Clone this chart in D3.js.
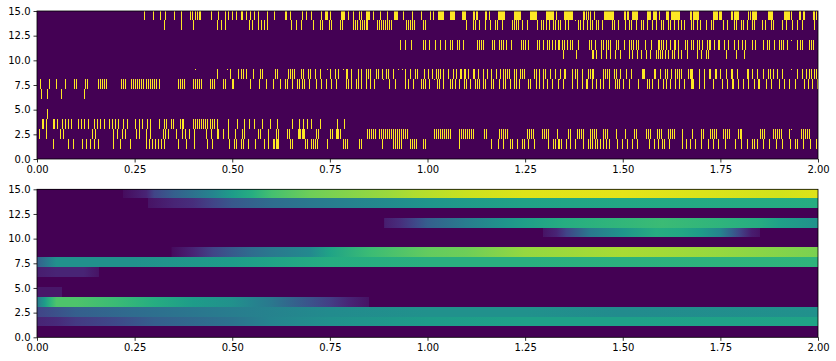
<!DOCTYPE html>
<html>
<head>
<meta charset="utf-8">
<script src="https://cdn.jsdelivr.net/npm/d3@7"></script>
<style>
  html, body { margin: 0; padding: 0; background: #fff; }
  text { font-family: "DejaVu Sans", sans-serif; font-size: 10px; }
</style>
</head>
<body>
<div id="chart"></div>
<script>
// spike times (seconds) per neuron
const spikes14 = [.274,.297,.315,.329,.352,.369,.392,.398,.404,.409,.414,.418,.446,.464,.481,.489,.499,.509,.522,.525,.534,.545,.556,.567,.588,.608,
  .636,.638,.647,.679,.688,.702,.727,.7375,.740,.7425,.750,.778,.7805,.783,.7855,.796,.809,.825,.830,.842,.8445,.847,.8495,.861,.878,.896,.914,.9165,.919,.9215,.937,.960,.983,
  1.006,1.014,1.028,1.0305,1.033,1.0355,1.038,1.0405,1.058,1.0605,1.063,1.0655,1.068,1.088,1.0905,1.093,1.0955,1.116,1.1185,1.125,1.1275,1.147,1.151,1.158,
  1.181,1.1835,1.186,1.1885,1.191,1.1935,1.196,1.221,1.2235,1.226,1.2285,1.231,1.2335,1.236,1.262,1.2645,1.267,1.2695,1.272,1.2745,1.277,1.303,1.3055,1.308,1.3105,1.313,1.3155,1.318,1.3205,1.330,
  1.350,1.3525,1.355,1.3575,1.360,1.3625,1.365,1.3675,1.370,1.397,1.402,1.407,1.412,1.417,1.426,1.451,1.4535,1.456,1.4585,1.461,1.4635,1.466,1.4685,1.471,1.4735,1.476,
  1.502,1.507,1.512,1.5145,1.523,1.5255,1.528,1.5305,1.533,1.5355,1.561,1.5635,1.566,1.5685,1.571,1.578,1.5805,1.583,1.5855,1.594,1.612,1.6145,1.617,1.624,1.6265,1.629,1.6315,1.634,1.6365,1.639,1.6415,1.644,
  1.671,1.6735,1.680,1.6825,1.685,1.6875,1.690,1.6925,1.731,1.7335,1.736,1.7385,1.741,1.747,1.7495,1.752,1.776,1.781,1.786,1.7885,1.791,1.7935,1.796,1.821,1.826,1.831,1.8335,1.836,1.8385,1.841,
  1.873,1.8755,1.878,1.8805,1.883,1.913,1.9155,1.918,1.9205,1.923,1.9255,1.932,1.951,1.9535,1.961,1.9635,1.986,1.9885,1.995];
const spikes13 = [.324,.369,.399,.461,.471,.481,.543,.551,.566,.574,.581,.589,.650,.663,.676,.707,.725,.730,.748,.753,.776,.781,.809,.814,.819,.827,.832,.837,.842,.845,
  .871,.876,.881,.886,.891,.896,.901,.906,.945,.950,.955,.960,.965,.988,.994,1.099,1.116,1.121,1.132,1.147,1.160,1.173,1.178,1.191,1.217,1.222,1.227,1.232,1.242,1.255,
  1.281,1.291,1.296,1.304,1.311,1.321,1.326,1.333,1.340,1.353,1.360,1.386,1.391,1.399,1.409,1.417,1.422,1.432,1.437,1.448,1.473,1.478,1.489,1.507,1.517,1.522,1.535,1.548,1.553,1.563,
  1.576,1.584,1.597,1.604,1.617,1.622,1.632,1.642,1.650,1.658,1.676,1.681,1.689,1.699,1.712,1.725,1.732,1.758,1.766,1.784,1.789,1.804,1.809,1.819,1.830,1.835,1.857,1.863,1.880,1.886,1.909,1.919,1.934,1.947,1.960,1.990];
const spikes11 = [.930,.942,.958,.988,.994,1.004,1.019,1.032,1.045,1.058,1.063,1.076,1.081,1.091,1.127,1.132,1.137,1.142,1.165,1.170,1.183,1.188,1.193,1.201,1.214,1.239,1.244,1.250,1.257,
  1.281,1.286,1.296,1.306,1.311,1.319,1.326,1.333,1.338,1.345,1.350,1.358,1.366,1.371,1.386,1.413,1.418,1.428,1.445,1.450,1.457,1.463,1.468,1.483,1.489,1.504,1.517,1.522,1.527,1.535,1.540,1.556,1.573,
  1.589,1.594,1.599,1.604,1.610,1.620,1.630,1.635,1.642,1.660,1.665,1.676,1.681,1.689,1.696,1.704,1.717,1.720,1.724,1.734,1.744,1.747,1.760,1.770,1.784,1.794,1.805,1.814,1.831,1.838,1.859,1.870,1.874,1.887,1.900,1.905,1.910,1.920,1.945,1.953,1.960,1.976,1.981,1.986];
const spikes10 = [1.347,1.381,1.422,1.425,1.432,1.445,1.457,1.468,1.479,1.492,1.515,1.523,1.537,1.548,1.560,1.571,1.586,1.591,1.596,1.601,1.608,1.615,1.625,1.632,1.642,1.650,1.665,1.689,1.701,1.714,1.719,1.765,1.791,1.811];
const spikes8 = [.461,.494,.515,.522,.528,.535,.553,.571,.576,.609,.615,.643,.647,.652,.657,.675,.680,.694,.698,.711,.724,.750,.763,.771,.791,.795,.803,.823,.830,.842,.847,.852,.867,.873,.883,.893,.898,.911,.942,.955,.968,.973,.991,
  1.001,1.012,1.022,1.028,1.031,1.040,1.053,1.065,1.073,1.083,1.086,1.093,1.096,1.104,1.116,1.119,1.129,1.142,1.152,1.163,1.175,1.186,1.193,1.198,1.203,1.209,1.222,1.227,1.237,1.242,1.247,1.273,1.278,1.285,1.296,1.301,1.314,1.326,
  1.340,1.350,1.353,1.369,1.379,1.384,1.395,1.410,1.415,1.420,1.425,1.449,1.454,1.459,1.464,1.477,1.482,1.492,1.494,1.508,1.520,1.522,1.549,1.551,1.554,1.579,1.582,1.595,1.608,1.613,1.623,1.635,1.640,1.645,1.650,1.666,1.668,1.671,1.676,1.678,1.694,1.707,1.720,1.723,1.736,1.739,1.748,1.764,1.776,1.781,1.792,1.818,1.820,1.830,1.832,1.843,1.858,1.871,1.876,1.884,1.894,1.907,1.945,1.958,1.968,1.978,1.981,1.989,1.994];
const spikes7 = [.008,.031,.049,.072,.095,.100,.123,.128,.156,.161,.166,.171,.176,.215,.220,.225,.241,.246,.251,.256,.261,.266,.272,.279,.284,.289,.294,.300,.305,.312,.361,.366,.371,.376,.399,.405,.410,.415,.420,.443,.448,.453,.476,.481,.499,.502,.545,.568,.586,.604,
  .621,.634,.639,.652,.665,.670,.678,.683,.696,.714,.727,.739,.752,.765,.791,.796,.804,.817,.822,.830,.842,.853,.863,.901,.917,.942,.950,.963,.983,.988,.993,1.004,1.024,1.029,1.040,1.058,1.063,1.070,1.081,1.094,1.099,1.109,1.121,1.126,1.131,1.142,1.147,1.163,1.168,1.183,1.193,1.198,1.211,1.222,1.227,1.234,1.257,1.262,1.278,1.286,1.296,1.306,1.319,1.334,
  1.347,1.370,1.383,1.396,1.406,1.408,1.421,1.431,1.442,1.449,1.466,1.480,1.485,1.490,1.501,1.516,1.539,1.562,1.567,1.575,1.590,1.603,1.611,1.621,1.634,1.644,1.657,1.675,1.677,1.680,1.695,1.708,1.731,1.754,1.767,1.780,1.782,1.795,1.808,1.821,1.836,1.847,1.849,1.867,1.879,1.900,1.913,1.926,1.941,1.964,1.974,1.984,1.998];
const spikes6 = [.010,.026,.061,.120];
const spikes4 = [.026];
const spikes3 = [.013,.015,.023,.041,.043,.051,.064,.072,.079,.087,.105,.113,.120,.131,.146,.154,.161,.172,.184,.192,.200,.207,.220,.230,.251,.261,.269,.282,.289,.312,.325,.330,.343,.348,.366,.371,.374,.399,.405,.410,.415,.420,.425,.430,.435,.443,.448,.453,.461,.489,.512,.530,.543,.556,.576,.597,.615,.653,.671,.681,.691,.702,.725,.768,.786];
const spikes2 = [.005,.023,.059,.067,.141,.149,.195,.205,.218,.225,.254,.261,.279,.289,.323,.328,.335,.356,.371,.379,.389,.402,.433,.446,.461,.463,.476,.489,.507,.525,.530,.566,.571,.592,.612,.617,
  .640,.645,.668,.670,.673,.678,.680,.683,.715,.720,.750,.755,.766,.769,.771,.776,.845,.850,.855,.860,.865,.876,.881,.886,.891,.896,.901,.906,.912,.917,.922,.927,.932,.937,.942,.948,
  1.017,1.022,1.027,1.032,1.037,1.042,1.048,1.053,1.058,1.081,1.086,1.091,1.096,1.101,1.106,1.111,1.116,1.145,1.150,1.183,1.188,1.193,1.198,1.204,1.255,1.260,1.265,1.270,1.293,1.298,1.303,1.309,1.332,
  1.361,1.366,1.384,1.389,1.394,1.399,1.417,1.422,1.427,1.432,1.450,1.455,1.460,1.483,1.507,1.530,1.535,1.559,1.564,1.569,1.587,1.592,1.597,1.615,1.620,1.625,1.631,1.651,1.677,1.700,1.705,1.723,1.728,1.733,1.738,1.756,1.761,1.766,1.771,1.794,1.799,1.804,1.851,1.856,1.861,1.884,1.889,1.894,1.900,1.905,1.927,1.956,1.961,1.966,1.971,1.976];
const spikes1 = [.041,.079,.092,.115,.125,.136,.146,.156,.195,.213,.238,.279,.287,.295,.302,.310,.318,.325,.361,.382,.402,.435,.448,.492,.504,.510,.522,.528,.540,.558,.581,.592,.604,.606,.612,.614,.617,
  .648,.653,.686,.691,.702,.707,.712,.717,.742,.784,.789,.794,.825,.830,.884,.912,.917,.922,.927,.932,.955,.960,.965,.970,.988,.994,1.081,1.163,1.181,1.193,1.211,1.216,1.229,1.242,1.247,1.257,1.273,1.309,1.321,1.326,1.334,
  1.336,1.341,1.354,1.366,1.379,1.397,1.410,1.415,1.420,1.428,1.433,1.441,1.449,1.456,1.466,1.484,1.497,1.510,1.523,1.536,1.566,1.579,1.590,1.600,1.605,1.618,1.651,1.661,1.671,1.684,1.700,1.718,1.732,1.745,1.761,1.787,1.804,1.817,1.830,1.835,1.843,1.859,1.874,1.892,1.907,1.928,1.940,1.945,1.961,1.979,1.994];

// the very short ticks that only show along the top of a row
const stubs13 = [1.378,1.507];
const stubs11 = [1.932];
const stubs8 = [.405,.487,.743,.783,.924,.935,1.932];
const stubs7 = [.886,1.017,1.338];
const stubs2 = [1.93];

const rate14 = [[.219,0],[.22,.03],[.28,.1],[.30,.2],[.35,.3],[.45,.45],[.5,.55],[.55,.62],[.6,.7],[.7,.78],[.75,.8],[.9,.85],[.97,.88],[1.1,.92],[1.25,.95],[1.5,.96],[1.9,.93],[2,.95]];
const rate13 = [[.284,0],[.285,.05],[.35,.1],[.4,.13],[.45,.2],[.5,.27],[.6,.35],[.7,.4],[.8,.44],[.9,.48],[1.0,.52],[1.25,.58],[1.5,.6],[2,.62]];
const rate11 = [[.889,0],[.89,.08],[.93,.13],[.97,.22],[1.0,.3],[1.1,.42],[1.2,.52],[1.25,.56],[1.35,.62],[1.5,.66],[1.6,.68],[1.75,.65],[1.85,.62],[1.9,.57],[2,.5]];
const rate10 = [[1.295,0],[1.296,.05],[1.33,.1],[1.356,.2],[1.415,.4],[1.5,.52],[1.586,.62],[1.65,.6],[1.7,.55],[1.75,.45],[1.78,.3],[1.8,.2],[1.83,.08],[1.851,.05],[1.852,0]];
const rate8 = [[.344,0],[.345,.03],[.4,.1],[.45,.2],[.5,.28],[.55,.35],[.6,.4],[.7,.47],[.75,.58],[.85,.68],[1.0,.76],[1.1,.78],[1.25,.84],[1.5,.87],[1.6,.86],[1.75,.84],[2,.8]];
const rate7 = [[0,.3],[.03,.42],[.05,.5],[.25,.5],[.5,.55],[.6,.58],[.75,.62],[1.0,.63],[1.25,.63],[2,.65]];
const rate6 = [[0,.08],[.05,.1],[.12,.1],[.159,.05],[.16,0]];
const rate4 = [[0,.06],[.064,.06],[.065,0]];
const rate3 = [[0,.4],[.02,.55],[.035,.65],[.05,.72],[.1,.72],[.2,.68],[.3,.62],[.4,.55],[.5,.5],[.55,.45],[.6,.4],[.7,.25],[.75,.18],[.8,.1],[.849,.05],[.85,0]];
const rate2 = [[0,.2],[.1,.3],[.25,.35],[.5,.42],[.75,.48],[1.0,.5],[1.25,.5],[1.5,.48],[2,.5]];
const rate1 = [[0,.1],[.05,.12],[.1,.17],[.2,.22],[.3,.3],[.5,.38],[.6,.45],[.75,.5],[1.0,.55],[1.25,.57],[1.5,.57],[2,.58]];

const spikeRows = [[14,spikes14],[13,spikes13],[11,spikes11],[10,spikes10],[8,spikes8],[7,spikes7],[6,spikes6],[4,spikes4],[3,spikes3],[2,spikes2],[1,spikes1]];
const stubRows = [[13,stubs13],[11,stubs11],[8,stubs8],[7,stubs7],[2,stubs2]];
const rateRows = [[14,rate14],[13,rate13],[11,rate11],[10,rate10],[8,rate8],[7,rate7],[6,rate6],[4,rate4],[3,rate3],[2,rate2],[1,rate1]];

const xTicks = [0,.25,.5,.75,1,1.25,1.5,1.75,2];
const yTicks = [0,2.5,5,7.5,10,12.5,15];
// image rows fall on whole pixels, so the edges are not quite evenly spaced
const topEdges = [15,14.09,13.07,12.06,11.05,10.1,9.12,8.11,7.09,6.08,5.07,4.05,3.04,2.03,1.01,0];
const bottomEdges = [15,14.15,13.14,12.12,11.11,10.17,9.15,8.14,7.13,6.11,5.1,4.08,3.07,2.06,1.145,0];

const width = 836, height = 361;
const plotLeft = 37, plotWidth = 781, plotHeight = 148;
const topY = 11, bottomY = 189.3;

const svg = d3.select("#chart").append("svg")
    .attr("width", width)
    .attr("height", height)
    .style("display", "block");

const x = d3.scaleLinear().domain([0, 2]).range([0, plotWidth]);
const y = d3.scaleLinear().domain([0, 15]).range([plotHeight, 0]);
const defs = svg.append("defs");

function addPanel(top) {
    const g = svg.append("g").attr("transform", `translate(${plotLeft},${top})`);
    g.append("rect")
        .attr("width", plotWidth)
        .attr("height", plotHeight)
        .attr("fill", d3.interpolateViridis(0));
    return g;
}

function addAxes(g) {
    g.append("rect")
        .attr("width", plotWidth)
        .attr("height", plotHeight)
        .attr("fill", "none")
        .attr("stroke", "#000")
        .attr("stroke-width", 0.8);

    const xAxis = g.append("g")
        .attr("transform", `translate(0,${plotHeight})`)
        .call(d3.axisBottom(x).tickValues(xTicks).tickFormat(d3.format(".2f")).tickSize(3.5).tickSizeOuter(0));
    const yAxis = g.append("g")
        .call(d3.axisLeft(y).tickValues(yTicks).tickFormat(d3.format(".1f")).tickSize(3.5).tickSizeOuter(0));
    for (const a of [xAxis, yAxis]) {
        a.select(".domain").remove();
        a.selectAll("line").attr("stroke", "#000").attr("stroke-width", 0.8);
        a.selectAll("text").attr("fill", "#000").style("font-size", "10px");
    }
}

// upper panel: spike raster
const rasterG = addPanel(topY);
for (const [row, times] of spikeRows) {
    rasterG.append("g").selectAll("rect")
        .data(times)
        .enter()
        .append("rect")
        .attr("x", d => x(d))
        .attr("y", y(topEdges[14 - row]))
        .attr("width", 1)
        .attr("height", y(topEdges[15 - row]) - y(topEdges[14 - row]))
        .attr("fill", d3.interpolateViridis(1))
        .attr("shape-rendering", "crispEdges");
}
for (const [row, times] of stubRows) {
    rasterG.append("g").selectAll("rect")
        .data(times)
        .enter()
        .append("rect")
        .attr("x", d => x(d))
        .attr("y", y(topEdges[14 - row]))
        .attr("width", 1)
        .attr("height", 1)
        .attr("fill", d3.interpolateViridis(1))
        .attr("shape-rendering", "crispEdges");
}
addAxes(rasterG);

// lower panel: rate heatmap, one gradient per row
const heatG = addPanel(bottomY);
for (const [row, knots] of rateRows) {
    const id = `rate-${row}`;
    const grad = defs.append("linearGradient")
        .attr("id", id)
        .attr("gradientUnits", "userSpaceOnUse")
        .attr("x1", x(0))
        .attr("x2", x(2))
        .attr("y1", 0)
        .attr("y2", 0);
    grad.selectAll("stop")
        .data(knots)
        .enter()
        .append("stop")
        .attr("offset", d => d[0] / 2)
        .attr("stop-color", d => d3.interpolateViridis(d[1]));
    heatG.append("rect")
        .attr("x", x(0))
        .attr("y", y(bottomEdges[14 - row]))
        .attr("width", plotWidth)
        .attr("height", y(bottomEdges[15 - row]) - y(bottomEdges[14 - row]))
        .attr("fill", `url(#${id})`)
        .attr("shape-rendering", "crispEdges");
}
addAxes(heatG);
</script>
</body>
</html>
